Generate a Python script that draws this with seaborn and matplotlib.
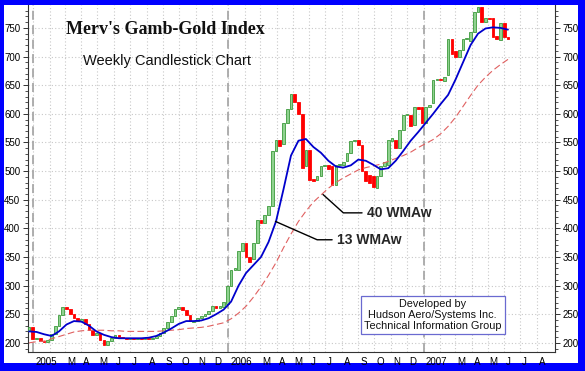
import matplotlib
matplotlib.use("Agg")
import matplotlib.pyplot as plt
import matplotlib.transforms as mtransforms
from matplotlib.patches import Rectangle
import seaborn as sns
import pandas as pd

# weekly candles, first week ending 2004-12-24
first_week = "2004-12-24"
opens = [221, 227, 206, 209, 204, 201, 205, 216, 230, 248,
         262, 259, 250, 244, 239, 241, 233, 222, 214, 218,
         205, 196, 203, 209, 213, 210, 208, 207, 209, 206,
         208, 206, 208, 207, 209, 212, 218, 226, 236, 247,
         259, 263, 258, 249, 236, 239, 243, 246, 250, 256,
         265, 261, 262, 268, 300, 328, 328, 360, 374, 350,
         346, 375, 414, 410, 424, 439, 535, 555, 548, 584,
         609, 635, 620, 600, 508, 537, 486, 485, 491, 508,
         510, 508, 476, 511, 511, 517, 532, 552, 554, 546,
         500, 493, 491, 470, 491, 509, 511, 552, 555, 541,
         572, 598, 598, 580, 611, 612, 584, 612, 619, 659,
         661, 657, 668, 731, 710, 700, 712, 731, 727, 743,
         778, 786, 760, 768, 767, 735, 729, 759, 734]
closes = [227, 206, 209, 204, 201, 205, 216, 230, 248, 262,
          259, 250, 244, 239, 241, 233, 222, 214, 218, 205,
          196, 203, 209, 213, 210, 208, 207, 209, 206, 208,
          206, 208, 207, 209, 212, 218, 226, 236, 247, 259,
          263, 258, 249, 238, 239, 243, 246, 250, 256, 265,
          261, 264, 271, 300, 328, 331, 360, 374, 350, 342,
          375, 414, 410, 424, 439, 535, 555, 543, 584, 609,
          635, 620, 600, 506, 537, 485, 483, 491, 508, 511,
          503, 476, 511, 513, 515, 532, 552, 554, 546, 500,
          482, 479, 473, 491, 509, 515, 555, 557, 541, 572,
          598, 599, 578, 611, 609, 584, 612, 615, 659, 661,
          659, 664, 731, 704, 700, 712, 731, 733, 743, 778,
          786, 760, 768, 765, 734, 730, 759, 734, 731]

# moving averages read every second week
wma13 = [220, 219, 215, 212, 220, 232, 238, 237, 230, 220,
         214, 210, 208, 208, 208, 208, 209, 212, 218, 225,
         233, 238, 238, 239, 243, 250, 258, 272, 300, 322,
         336, 350, 376, 412, 468, 527, 553, 556, 542, 532,
         518, 508, 506, 510, 520, 518, 511, 503, 505, 518,
         535, 553, 568, 584, 600, 617, 633, 660, 690, 720,
         740, 749, 751, 750, 747]
wma40 = [200, 202, 203, 207, 211, 215, 219, 221, 222, 222,
         222, 221, 221, 220, 220, 220, 220, 220, 221, 222,
         223, 225, 226, 227, 229, 232, 235, 242, 252, 264,
         280, 298, 318, 340, 366, 390, 412, 430, 446, 458,
         470, 480, 488, 495, 502, 506, 509, 512, 517, 522,
         527, 533, 541, 548, 555, 565, 578, 594, 613, 632,
         650, 664, 676, 686, 695]

month_names = ["", "", "M", "A", "M", "J", "J", "A", "S", "O", "N", "D"]

weeks = pd.date_range(first_week, periods=len(closes), freq="7D")
df = pd.DataFrame({"week": weeks, "open": opens, "close": closes})
ma = pd.DataFrame({"week": weeks[::2], "wma13": wma13, "wma40": wma40})

sns.set_style("white")
plt.rcParams["font.family"] = ["Liberation Sans", "DejaVu Sans"]

fig = plt.figure(figsize=(5.85, 3.71), dpi=100, facecolor="#0000ff")
fig.patches.append(Rectangle((4 / 585, 8 / 371), 574 / 585, 358 / 371,
                             transform=fig.transFigure, facecolor="white",
                             edgecolor="none", zorder=-1))
ax = fig.add_axes([28 / 585, 19 / 371, 527 / 585, 347 / 371])
ax.set_facecolor("white")

# candle bodies
up = df["close"] >= df["open"]
body = (df["close"] - df["open"]).abs()
low = df[["open", "close"]].min(axis=1)
ax.bar(df["week"][up], body[up], bottom=low[up], width=5,
       color="#8fd28f", edgecolor="#3c9a3c", linewidth=0.6, zorder=3)
ax.bar(df["week"][~up], body[~up], bottom=low[~up], width=5,
       color="#ff0000", edgecolor="#ff0000", linewidth=0.6, zorder=3)

# moving averages
sns.lineplot(data=ma, x="week", y="wma40", ax=ax, color="#e06060",
             linewidth=0.8, linestyle=(0, (6, 3)), zorder=4)
sns.lineplot(data=ma, x="week", y="wma13", ax=ax, color="#0000cc",
             linewidth=1.3, zorder=5)

ax.set_xlim(pd.Timestamp("2004-12-22"), pd.Timestamp("2007-09-04"))
ax.set_ylim(184, 790)
ax.set_xlabel("")
ax.set_ylabel("")

# axes, ticks, grid
months = pd.date_range("2005-01-01", "2007-08-01", freq="MS")
labels = [str(m.year) if m.month == 1 else month_names[m.month - 1] for m in months]
ax.set_xticks(months)
ax.set_xticklabels(labels)
ax.set_xticks(pd.date_range("2004-12-24", "2007-09-01", freq="7D"), minor=True)
ax.set_yticks(range(200, 751, 50))
ax.set_yticks(range(190, 790, 10), minor=True)
ax.grid(True, which="major", color="#c8c8c8", linestyle=(0, (1, 2)), linewidth=0.8)
ax.tick_params(axis="both", which="major", length=3.5, width=0.7, labelsize=7,
               color="#333333", labelcolor="black", direction="out")
ax.tick_params(axis="both", which="minor", length=2, width=0.6, color="#333333")
ax.tick_params(axis="y", which="both", left=True, right=True,
               labelleft=True, labelright=True, pad=2)
ax.tick_params(axis="x", which="major", length=3, pad=0.5)
offset = mtransforms.ScaledTranslation(2 / 100, 0, fig.dpi_scale_trans)
for lab in ax.get_xticklabels():
    lab.set_horizontalalignment("left")
    lab.set_transform(lab.get_transform() + offset)

for s in ["left", "right", "bottom"]:
    ax.spines[s].set_color("#333333")
    ax.spines[s].set_linewidth(0.8)
ax.spines["top"].set_visible(False)

for yr in ["2005-01-01", "2006-01-01", "2007-01-01"]:
    ax.axvline(pd.Timestamp(yr), color="#a8a8a8", linestyle=(0, (5, 3)),
               linewidth=1.3, zorder=2)

# titles
ax.text(0.26, 0.93, "Merv's Gamb-Gold Index", transform=ax.transAxes,
        ha="center", va="center", fontsize=13, fontweight="bold",
        family="Liberation Serif", color="#111111")
ax.text(0.264, 0.839, "Weekly Candlestick Chart", transform=ax.transAxes,
        ha="center", va="center", fontsize=10.5, color="#111111")

# leader labels
lead13_x = pd.to_datetime(["2006-03-30", "2006-06-16", "2006-07-14"])
lead13_y = [412, 380, 380]
lead40_x = pd.to_datetime(["2006-06-27", "2006-08-04", "2006-09-08"])
lead40_y = [459, 427, 427]
ax.plot(lead13_x, lead13_y, color="black", linewidth=1, zorder=6)
ax.plot(lead40_x, lead40_y, color="black", linewidth=1, zorder=6)
ax.text(pd.Timestamp("2006-07-24"), 380, "13 WMAw", ha="left", va="center",
        fontsize=10, fontweight="bold", zorder=6)
ax.text(pd.Timestamp("2006-09-17"), 427, "40 WMAw", ha="left", va="center",
        fontsize=10, fontweight="bold", zorder=6)

ax.text(0.768, 0.107, "Developed by\nHudson Aero/Systems Inc.\nTechnical Information Group",
        transform=ax.transAxes, ha="center", va="center", multialignment="center",
        fontsize=7.8, color="#111111", linespacing=1.1, zorder=7,
        bbox=dict(boxstyle="square,pad=0.3", facecolor="white",
                  edgecolor="#6a6ad0", linewidth=0.9))

fig.savefig("out.png", dpi=100, facecolor=fig.get_facecolor())
